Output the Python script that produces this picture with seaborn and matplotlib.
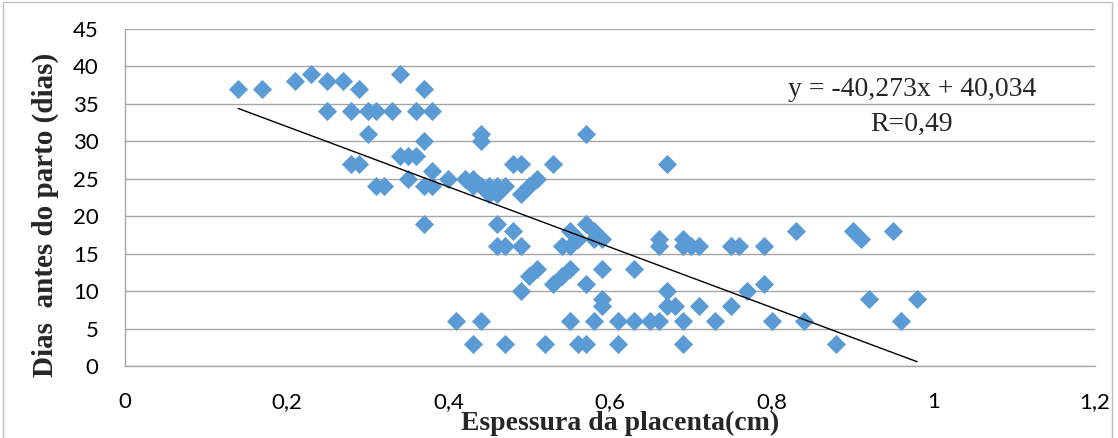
import matplotlib
matplotlib.use("Agg")
import matplotlib.pyplot as plt
import seaborn as sns
import numpy as np
import pandas as pd
from matplotlib.patches import Rectangle

# ---- data ----
espessura = [0.14, 0.17, 0.21, 0.23, 0.25, 0.27, 0.29, 0.34, 0.37,
             0.25, 0.28, 0.30, 0.31, 0.33, 0.36, 0.38,
             0.30, 0.37, 0.34, 0.35, 0.36, 0.28, 0.29,
             0.31, 0.32, 0.35, 0.37, 0.38, 0.38, 0.40, 0.37,
             0.44, 0.44, 0.57, 0.48, 0.49, 0.53,
             0.42, 0.43, 0.43, 0.44, 0.45, 0.46, 0.47, 0.45, 0.46,
             0.49, 0.50, 0.51, 0.46, 0.48,
             0.46, 0.47, 0.49, 0.54, 0.55, 0.55, 0.57, 0.58, 0.59, 0.56, 0.58,
             0.67, 0.66, 0.66, 0.69, 0.69, 0.70, 0.71, 0.75, 0.76, 0.79,
             0.83, 0.90, 0.91, 0.95,
             0.59, 0.63, 0.57, 0.67, 0.77, 0.79, 0.92, 0.98,
             0.84, 0.96, 0.88,
             0.59, 0.59, 0.67, 0.68, 0.71, 0.75,
             0.58, 0.61, 0.63, 0.65, 0.66, 0.69, 0.73, 0.80,
             0.57, 0.61, 0.69,
             0.50, 0.51, 0.49, 0.53, 0.54, 0.55,
             0.41, 0.44, 0.55, 0.43, 0.47, 0.52, 0.56]
dias = [37, 37, 38, 39, 38, 38, 37, 39, 37,
        34, 34, 34, 34, 34, 34, 34,
        31, 30, 28, 28, 28, 27, 27,
        24, 24, 25, 24, 24, 26, 25, 19,
        31, 30, 31, 27, 27, 27,
        25, 25, 24, 24, 24, 24, 24, 23, 23,
        23, 24, 25, 19, 18,
        16, 16, 16, 16, 16, 18, 19, 18, 17, 17, 17,
        27, 17, 16, 17, 16, 16, 16, 16, 16, 16,
        18, 18, 17, 18,
        13, 13, 11, 10, 10, 11, 9, 9,
        6, 6, 3,
        9, 8, 8, 8, 8, 8,
        6, 6, 6, 6, 6, 6, 6, 6,
        3, 3, 3,
        12, 13, 10, 11, 12, 13,
        6, 6, 6, 3, 3, 3, 3]

slope = -40.273
intercept = 40.034
eq_text = "y = -40,273x + 40,034"
r_text = "R=0,49"

x_ticks = [0, 0.2, 0.4, 0.6, 0.8, 1.0, 1.2]
x_tick_labels = ["0", "0,2", "0,4", "0,6", "0,8", "1", "1,2"]
y_ticks = [0, 5, 10, 15, 20, 25, 30, 35, 40, 45]

df = pd.DataFrame({"x": espessura, "y": dias})

# ---- style ----
sns.set_theme(style="white")
plt.rcParams["font.family"] = ["Lato", "DejaVu Sans"]

W, H = 1118, 438
fig = plt.figure(figsize=(W / 100, H / 100), dpi=100)
ax = fig.add_axes([125 / W, 1 - 366 / H, 970 / W, 337 / H])

ax.yaxis.grid(True, color="#A6A6A6", linewidth=1.0)
ax.xaxis.grid(False)
ax.set_axisbelow(True)

sns.scatterplot(data=df, x="x", y="y", marker="D", s=95, color="#5B9BD5",
                edgecolor="#5B9BD5", linewidth=0, ax=ax, zorder=3)

xs = np.array([min(espessura), max(espessura)])
sns.lineplot(x=xs, y=slope * xs + intercept, color="black", linewidth=1.0,
             ax=ax, zorder=4)

ax.set_xlim(0, 1.2)
ax.set_ylim(0, 45)
ax.set_xticks(x_ticks)
ax.set_xticklabels(x_tick_labels)
ax.set_yticks(y_ticks)
ax.tick_params(axis="both", labelsize=16, colors="black", length=5,
               width=1, color="#A6A6A6", direction="out")
ax.tick_params(axis="x", pad=14)
ax.tick_params(axis="y", pad=14)

for s in ["top", "right"]:
    ax.spines[s].set_visible(False)
for s in ["left", "bottom"]:
    ax.spines[s].set_visible(True)
    ax.spines[s].set_color("#A6A6A6")
    ax.spines[s].set_linewidth(1.0)

ax.set_xlabel("")
ax.set_ylabel("")
fig.text(620 / W, 1 - 430 / H, "Espessura da placenta(cm)", fontsize=20,
         fontweight="bold", family=["Liberation Serif"], ha="center",
         va="baseline")
fig.text(45 / W, 1 - 215 / H, "Dias  antes do parto (dias)", fontsize=21,
         fontweight="bold", family=["Liberation Serif"], ha="center",
         va="center", rotation=90)

ax.text((912 - 125) / 970, (366 - 89) / 337, eq_text, transform=ax.transAxes,
        ha="center", va="center", fontsize=20, family=["Liberation Serif"])
ax.text((912 - 125) / 970, (366 - 124) / 337, r_text, transform=ax.transAxes,
        ha="center", va="center", fontsize=20, family=["Liberation Serif"])

fig.patches.append(Rectangle((0.003, -0.1), 0.992, 1.095,
                             transform=fig.transFigure, fill=False,
                             edgecolor="#BFBFBF", linewidth=1.0))

fig.savefig("out.png", dpi=100)
